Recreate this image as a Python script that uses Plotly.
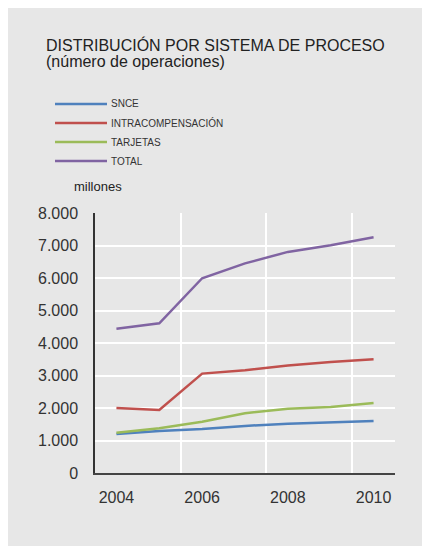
import plotly.graph_objects as go

years = [2004, 2005, 2006, 2007, 2008, 2009, 2010]
series_names = ["SNCE", "INTRACOMPENSACIÓN", "TARJETAS", "TOTAL"]
snce = [1200, 1290, 1355, 1450, 1518, 1560, 1600]
intracomp = [2000, 1940, 3058, 3160, 3305, 3415, 3498]
tarjetas = [1242, 1375, 1580, 1840, 1980, 2031, 2154]
total = [4442, 4605, 5993, 6450, 6803, 7006, 7252]
colors = ["#4f81bd", "#c0504d", "#9bbb59", "#8064a2"]
x_tick_vals = [2004, 2006, 2008, 2010]
x_tick_text = ["2004", "2006", "2008", "2010"]
y_tick_vals = [0, 1000, 2000, 3000, 4000, 5000, 6000, 7000, 8000]

OFF = 8  # page body margin
W, H = 420, 538
ML, MT = 95 - OFF, 213 - OFF
PW, PH = 300, 260
MR = W - ML - PW
MB = H - MT - PH

def px(xp):
    return (xp - OFF - ML) / PW

def py(yp):
    return (MT + PH - (yp - OFF)) / PH

FONT = "Liberation Sans, Arial, sans-serif"

fig = go.Figure()
for name, vals, col in zip(series_names, [snce, intracomp, tarjetas, total], colors):
    fig.add_trace(go.Scatter(x=years, y=vals, mode="lines", name=name,
                             line=dict(color=col, width=2.5), showlegend=False))

shapes = []
annotations = [
    dict(text="DISTRIBUCIÓN POR SISTEMA DE PROCESO", x=px(44), y=py(45),
         xref="paper", yref="paper", xanchor="left", yanchor="middle",
         showarrow=False, font=dict(family=FONT, size=16, color="#222222")),
    dict(text="(número de operaciones)", x=px(44), y=py(61.5),
         xref="paper", yref="paper", xanchor="left", yanchor="middle",
         showarrow=False, font=dict(family=FONT, size=16, color="#222222")),
    dict(text="millones", x=px(72), y=py(187),
         xref="paper", yref="paper", xanchor="left", yanchor="middle",
         showarrow=False, font=dict(family=FONT, size=13, color="#222222")),
]
leg_y0, leg_dy = 104, 19
for i, (name, col) in enumerate(zip(series_names, colors)):
    yy = leg_y0 + i * leg_dy
    shapes.append(dict(type="line", xref="paper", yref="paper", x0=px(55), x1=px(107),
                       y0=py(yy), y1=py(yy), line=dict(color=col, width=2.5)))
    annotations.append(dict(text=name, x=px(109), y=py(yy), xref="paper", yref="paper",
                            xanchor="left", yanchor="middle", showarrow=False,
                            font=dict(family=FONT, size=10, color="#333333")))

fig.update_layout(
    width=W, height=H,
    margin=dict(l=ML, r=MR, t=MT, b=MB, pad=0),
    paper_bgcolor="#e7e7e7",
    plot_bgcolor="#e7e7e7",
    separators=",.",
    shapes=shapes,
    annotations=annotations,
    font=dict(family=FONT, color="#333333"),
)
fig.update_xaxes(range=[2003.5, 2010.5], tickvals=x_tick_vals, ticktext=x_tick_text,
                 showgrid=False, zeroline=False, showline=True, linecolor="#444444",
                 linewidth=1.5, ticks="outside", ticklen=9, tickcolor="rgba(0,0,0,0)",
                 tickfont=dict(family=FONT, size=16, color="#333333"),
                 minor=dict(tickvals=[2005.5, 2007.5, 2009.5], showgrid=True,
                            gridcolor="white", gridwidth=1.5, ticks=""))
fig.update_yaxes(range=[0, 8000], tickvals=y_tick_vals, tickformat=",d",
                 showgrid=True, gridcolor="white", gridwidth=1.5, zeroline=False,
                 showline=True, linecolor="#333333", linewidth=1.5,
                 ticks="outside", ticklen=12, tickcolor="rgba(0,0,0,0)",
                 tickfont=dict(family=FONT, size=16, color="#333333"))

fig.write_html("out.html")
